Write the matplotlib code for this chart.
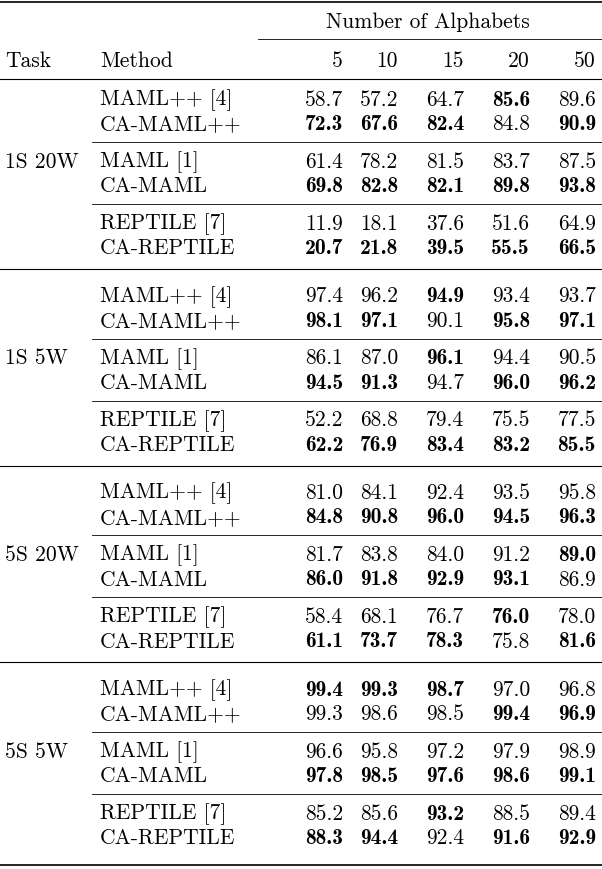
import matplotlib as mpl
mpl.use('Agg')
import matplotlib.pyplot as plt

tasks = ["1S 20W", "1S 5W", "5S 20W", "5S 5W"]
alphabets = ["5", "10", "15", "20", "50"]
methods = [("MAML++ [4]", "CA-MAML++"), ("MAML [1]", "CA-MAML"), ("REPTILE [7]", "CA-REPTILE")]

scores = {
    "1S 20W": [[58.7, 57.2, 64.7, 85.6, 89.6], [72.3, 67.6, 82.4, 84.8, 90.9],
               [61.4, 78.2, 81.5, 83.7, 87.5], [69.8, 82.8, 82.1, 89.8, 93.8],
               [11.9, 18.1, 37.6, 51.6, 64.9], [20.7, 21.8, 39.5, 55.5, 66.5]],
    "1S 5W": [[97.4, 96.2, 94.9, 93.4, 93.7], [98.1, 97.1, 90.1, 95.8, 97.1],
              [86.1, 87.0, 96.1, 94.4, 90.5], [94.5, 91.3, 94.7, 96.0, 96.2],
              [52.2, 68.8, 79.4, 75.5, 77.5], [62.2, 76.9, 83.4, 83.2, 85.5]],
    "5S 20W": [[81.0, 84.1, 92.4, 93.5, 95.8], [84.8, 90.8, 96.0, 94.5, 96.3],
               [81.7, 83.8, 84.0, 91.2, 89.0], [86.0, 91.8, 92.9, 93.1, 86.9],
               [58.4, 68.1, 76.7, 76.0, 78.0], [61.1, 73.7, 78.3, 75.8, 81.6]],
    "5S 5W": [[99.4, 99.3, 98.7, 97.0, 96.8], [99.3, 98.6, 98.5, 99.4, 96.9],
              [96.6, 95.8, 97.2, 97.9, 98.9], [97.8, 98.5, 97.6, 98.6, 99.1],
              [85.2, 85.6, 93.2, 88.5, 89.4], [88.3, 94.4, 92.4, 91.6, 92.9]],
}

W, H = 602, 870
fig = plt.figure(figsize=(W / 100, H / 100), dpi=100)
ax = fig.add_axes([0, 0, 1, 1])
ax.set_xlim(0, W)
ax.set_ylim(H, 0)
ax.axis('off')

reg = dict(family='cmr10', fontsize=15.5, va='center')
bold = dict(family='cmb10', fontsize=15.5, va='center')
col_x = [343, 398, 464, 530, 596]

ax.plot([0, W], [3, 3], color='k', lw=1.2)
ax.text(428, 22, "Number of Alphabets", ha='center', **reg)
ax.plot([258, W], [40, 40], color='k', lw=0.6)
ax.text(5, 61, "Task", ha='left', **reg)
ax.text(100, 61, "Method", ha='left', **reg)
for x, a in zip(col_x, alphabets):
    ax.text(x, 61, a, ha='right', **reg)
ax.plot([0, W], [80, 80], color='k', lw=0.8)

for g, task in enumerate(tasks):
    y0 = 100 + g * 196.7
    ax.text(5, y0 + 62, task, ha='left', **reg)
    rows = scores[task]
    for p, (m1, m2) in enumerate(methods):
        yp = y0 + p * 62
        for r, name in enumerate((m1, m2)):
            y = yp + r * 24.5
            ax.text(100, y, name, ha='left', **reg)
            vals = rows[2 * p + r]
            other = rows[2 * p + 1 - r]
            for x, v, o in zip(col_x, vals, other):
                ax.text(x, y, f"{v:.1f}", ha='right', **(bold if v >= o else reg))
        if p < 2:
            ax.plot([92, W], [yp + 43, yp + 43], color='k', lw=0.6)
    yb = y0 + 170
    if g < 3:
        ax.plot([0, W], [yb, yb], color='k', lw=0.8)
    else:
        ax.plot([0, W], [866, 866], color='k', lw=1.2)

fig.savefig("out.png", dpi=100)
